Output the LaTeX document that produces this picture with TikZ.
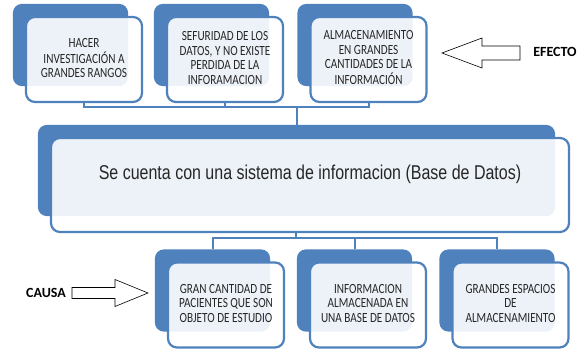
\documentclass[tikz,border=0pt]{standalone}
\usepackage{fontspec}
\usepackage{graphicx}
\usepackage{tikz}
\usetikzlibrary{backgrounds}
\newfontfamily\calibri{Carlito}
\newfontfamily\arial{Liberation Sans}
\definecolor{azul}{HTML}{4F81BD}
\definecolor{tinta}{HTML}{262626}
\newcommand*{\estrecho}[1]{\scalebox{0.8}[1]{\begin{tabular}{@{}c@{}}#1\end{tabular}}}
\newcommand*{\caja}[4]{%
  % #1: nombre del nodo
  % #2: centro de la caja blanca
  % #3: estilo de tamano
  % #4: texto
  \node[frente, #3] (#1) at (#2) {#4};
  \begin{scope}[on background layer]
    \fill[fondo] ([shift={(-12,12)}]#1.north west) rectangle ([shift={(-15,17)}]#1.south east);
  \end{scope}
  \coordinate (#1-top) at ([shift={(-13.5,12)}]#1.north);
}

\begin{document}
\begin{tikzpicture}[x=1pt, y=1pt,
  frente/.style={draw=azul, line width=2.2pt, rounded corners=9pt, fill=white, fill opacity=0.9, text opacity=1, text=tinta, inner sep=0pt, font=\calibri\fontsize{14}{14.5}\selectfont},
  fondo/.style={fill=azul, rounded corners=9pt},
  chica/.style={minimum width=116pt, minimum height=85pt},
  grande/.style={minimum width=518pt, minimum height=94pt},
  conector/.style={draw=azul, line width=2pt},
  flecha/.style={draw=black, line width=0.6pt, fill=white},
  lema/.style={font=\arial\fontsize{20}{24}\selectfont, text=tinta, inner sep=0pt},
  rotulo/.style={font=\calibri\bfseries\fontsize{14}{16}\selectfont, text=black}]
\useasboundingbox (0,0) rectangle (585,352);

\caja{e1}{84,292.5}{chica}{\estrecho{HACER\\INVESTIGACIÓN A\\GRANDES RANGOS}}
\caja{e2}{225,292.5}{chica}{\estrecho{SEFURIDAD DE LOS\\DATOS, Y NO EXISTE\\PERDIDA DE LA\\INFORAMACION}}
\caja{e3}{368.5,292.5}{chica}{\estrecho{ALMACENAMIENTO\\EN GRANDES\\CANTIDADES DE LA\\INFORMACIÓN}}
\caja{centro}{310,167}{grande}{}
\node[lema] (lema) at ([yshift=10.5pt]centro.center) {\scalebox{0.8}[1]{Se cuenta con una sistema de informacion (Base de Datos)}};
\caja{c1}{226,47}{chica}{\estrecho{GRAN CANTIDAD DE\\PACIENTES QUE SON\\OBJETO DE ESTUDIO}}
\caja{c2}{368,47}{chica}{\estrecho{INFORMACION\\ALMACENADA EN\\UNA BASE DE DATOS}}
\caja{c3}{510.5,47}{chica}{\estrecho{GRANDES ESPACIOS\\DE\\ALMACENAMIENTO}}

\coordinate (busA) at (0,245);
\coordinate (busB) at (0,114);
\foreach \e in {e1,e2,e3}
  \draw[conector] (\e.south) |- (centro-top |- busA) -- (centro-top);
\foreach \c in {c1,c2,c3}
  \draw[conector] ([xshift=-14pt]centro.south) |- (\c-top |- busB) -- (\c-top);

\draw[flecha] (442,299) -- (482,314) -- (482,306) -- (520,306) -- (520,292) -- (482,292) -- (482,284) -- cycle;
\draw[flecha] (148,59) -- (115,72.5) -- (115,64.5) -- (72,64.5) -- (72,53.5) -- (115,53.5) -- (115,45.5) -- cycle;
\node[rotulo] (efecto) at (555,300) {EFECTO};
\node[rotulo] (causa) at (46,59) {CAUSA};
\end{tikzpicture}
\end{document}
